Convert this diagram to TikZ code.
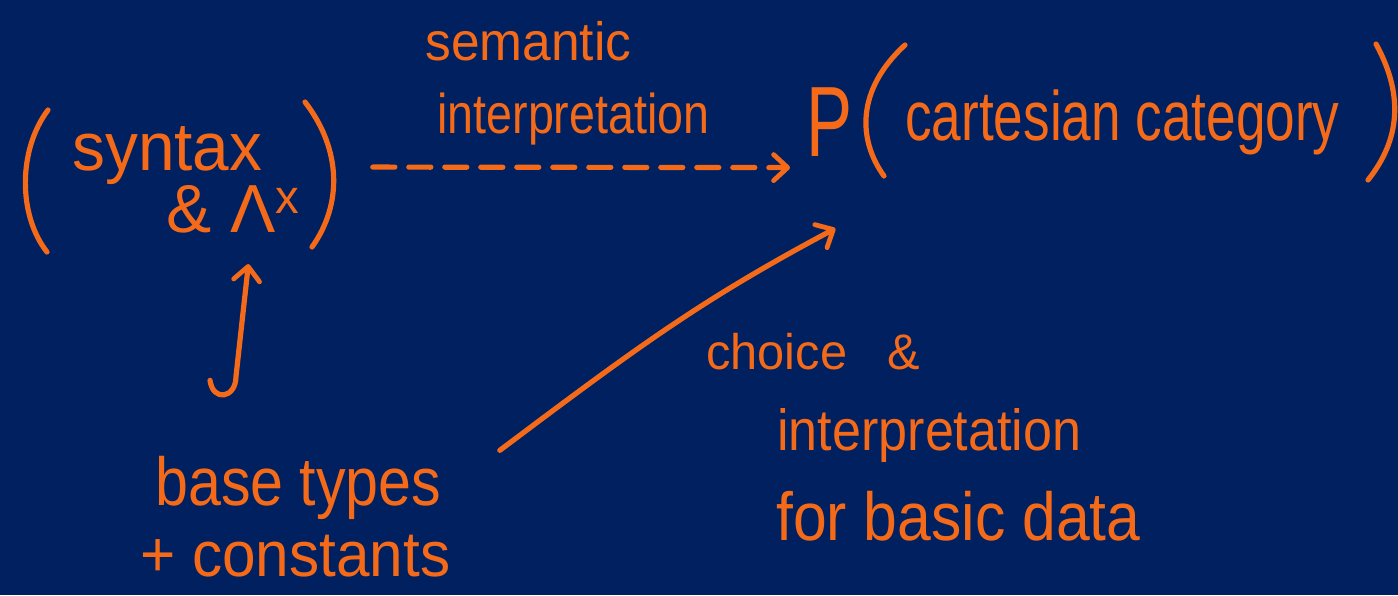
\documentclass[tikz,border=0pt]{standalone}
\usepackage{graphicx}
\usepackage{fontspec}
\setmainfont{Liberation Sans}
\usetikzlibrary{arrows.meta,calc}
\definecolor{board}{RGB}{0,32,96}
\definecolor{ink}{RGB}{244,106,24}
% text at a given size, stretched or squeezed to a given width
\newcommand\hw[3]{{\fontsize{#1}{#1}\selectfont\resizebox{#2}{\height}{#3}}}
\tikzset{
  hand/.style={text=ink, inner sep=0pt, anchor=base west},
  stroke/.style={draw=ink, line width=2.6pt, line cap=round, line join=round},
  tip/.style={-{Straight Barb[length=7pt,width=13pt,line width=2.4pt,round]}},
  semarrow/.style={stroke, tip, dash pattern=on 11pt off 7pt},
}
\begin{document}
\begin{tikzpicture}[x=0.5pt,y=-0.5pt]
\fill[board] (0,0) rectangle (1398,595);
\useasboundingbox (0,0) rectangle (1398,595);

% left-hand side: (syntax & Lambda^x)
\node[hand] (syn) at (72,170) {\hw{34pt}{95pt}{syntax}};
\node[hand] (lam) at (166,232) {\hw{34pt}{67pt}{\& Λ\textsuperscript{x}}};
\draw[stroke] (48,110) .. controls (18,150) and (18,215) .. (47,252);
\draw[stroke] (305,102) .. controls (342,150) and (342,205) .. (312,247);

% label over the dashed arrow
\node[hand] (sem) at (425,60) {\hw{27pt}{103pt}{semantic}};
\node[hand] (int1) at (437,133) {\hw{28pt}{136pt}{interpretation}};

% right-hand side: P(cartesian category)
\node[hand] (P) at (806,156) {\hw{50pt}{23pt}{P}};
\node[hand] (cat) at (905,140) {\hw{35pt}{217pt}{cartesian category}};
\draw[stroke] (905,45) .. controls (856,90) and (858,140) .. (884,176);
\draw[stroke] (1376,44) .. controls (1404,95) and (1400,140) .. (1368,180);

% bottom labels
\node[hand] (base) at (155,505) {\hw{34pt}{143pt}{base types}};
\node[hand] (const) at (140,576) {\hw{32pt}{155pt}{+ constants}};
\node[hand] (choice) at (706,369) {\hw{25pt}{107pt}{choice \ \ \&}};
\node[hand] (int2) at (777,450) {\hw{29pt}{152pt}{interpretation}};
\node[hand] (basic) at (776,540) {\hw{34pt}{182pt}{for basic data}};

% connectors
\draw[semarrow] ($(syn.east)+(110,12)$) -- ($(P.west)+(-16,46)$);
\draw[stroke, tip] ($(base.north west)+(55,-75)$)
  .. controls +(3,22) and +(0,22) .. ++(26,-4)
  -- ($(lam.south)+(15,31)$);
\draw[stroke, tip] ($(base.north east)+(58,-5)$)
  .. controls +(140,-105) and +(-135,72) .. ($(P.south)+(6,72)$);
\end{tikzpicture}
\end{document}
